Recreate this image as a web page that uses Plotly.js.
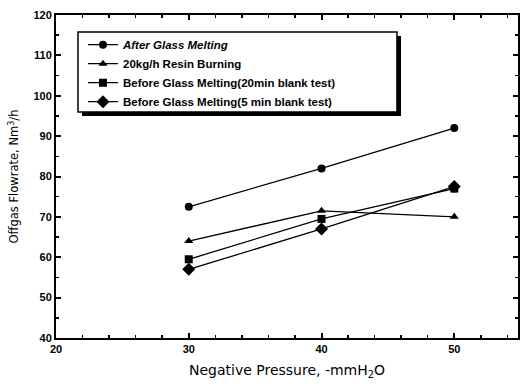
<!DOCTYPE html>
<html>
<head>
<meta charset="utf-8">
<script src="https://cdn.plot.ly/plotly-3.0.1.min.js"></script>
<style>html,body{margin:0;padding:0;background:#fff;}#chart{width:520px;height:384px;}</style>
</head>
<body>
<div id="chart"></div>
<script>
// Negative pressure set points (-mmH2O)
const pressure = [30, 40, 50];

// Offgas flowrate (Nm3/h) for each test condition
const afterMelting = [72.5, 82, 92];
const resinBurning = [64, 71.5, 70];
const before20min = [59.5, 69.5, 77];
const before5min = [57, 67, 77.5];

const seriesNames = [
  '<i>After Glass Melting</i>',
  '20kg/h Resin Burning',
  'Before Glass Melting(20min blank test)',
  'Before Glass Melting(5 min blank test)'
];
const seriesValues = [afterMelting, resinBurning, before20min, before5min];
const seriesSymbols = ['circle', 'triangle-up', 'square', 'diamond'];

const traces = seriesValues.map((vals, i) => ({
  x: pressure,
  y: vals,
  name: seriesNames[i],
  type: 'scatter',
  mode: 'lines+markers',
  line: {color: '#000', width: 1.3},
  marker: {color: '#000', size: seriesSymbols[i] === 'diamond' ? 10 : 8, symbol: seriesSymbols[i]}
}));

const frame = {
  showline: true, linecolor: '#000', linewidth: 2, mirror: 'ticks',
  ticks: 'inside', ticklen: 5, tickwidth: 2, tickcolor: '#000',
  showgrid: false, zeroline: false,
  tickfont: {family: 'Liberation Sans, Arial, sans-serif', size: 11, color: '#000', weight: 'bold'}
};

const layout = {
  width: 520, height: 384,
  margin: {l: 56, r: 2, t: 15, b: 46},
  paper_bgcolor: '#fff', plot_bgcolor: '#fff',
  showlegend: true,
  xaxis: Object.assign({}, frame, {
    range: [20, 54.8], dtick: 10, tick0: 20,
    minor: {dtick: 2, ticks: 'inside', ticklen: 3, tickwidth: 1.5, tickcolor: '#000'},
    title: {text: 'Negative Pressure, -mmH<sub>2</sub>O', standoff: 11,
      font: {family: 'DejaVu Sans, sans-serif', size: 14, color: '#000'}}
  }),
  yaxis: Object.assign({}, frame, {
    range: [40, 120], dtick: 10, tick0: 40,
    minor: {dtick: 5, ticks: 'inside', ticklen: 3, tickwidth: 1.5, tickcolor: '#000'},
    title: {text: 'Offgas Flowrate, Nm<sup>3</sup>/h', standoff: 12,
      font: {family: 'DejaVu Sans, sans-serif', size: 11.5, color: '#000'}}
  }),
  legend: {
    x: 0.0584, y: 0.953, xanchor: 'left', yanchor: 'top',
    bgcolor: 'rgba(0,0,0,0)', borderwidth: 0,
    tracegroupgap: 0, itemwidth: 30,
    font: {family: 'Liberation Sans, Arial, sans-serif', size: 11.5, color: '#000', weight: 'bold'}
  },
  shapes: [
    // drop shadow behind the legend box
    {type: 'rect', xref: 'paper', yref: 'paper', x0: 0.0563, x1: 0.7468, y0: 0.687, y1: 0.935,
     fillcolor: '#000', line: {width: 0}, layer: 'above'},
    // legend box
    {type: 'rect', xref: 'paper', yref: 'paper', x0: 0.0476, x1: 0.738, y0: 0.6997, y1: 0.947,
     fillcolor: '#fff', line: {color: '#000', width: 1.5}, layer: 'above'}
  ]
};

Plotly.newPlot('chart', traces, layout, {displayModeBar: false, staticPlot: true});
</script>
</body>
</html>
